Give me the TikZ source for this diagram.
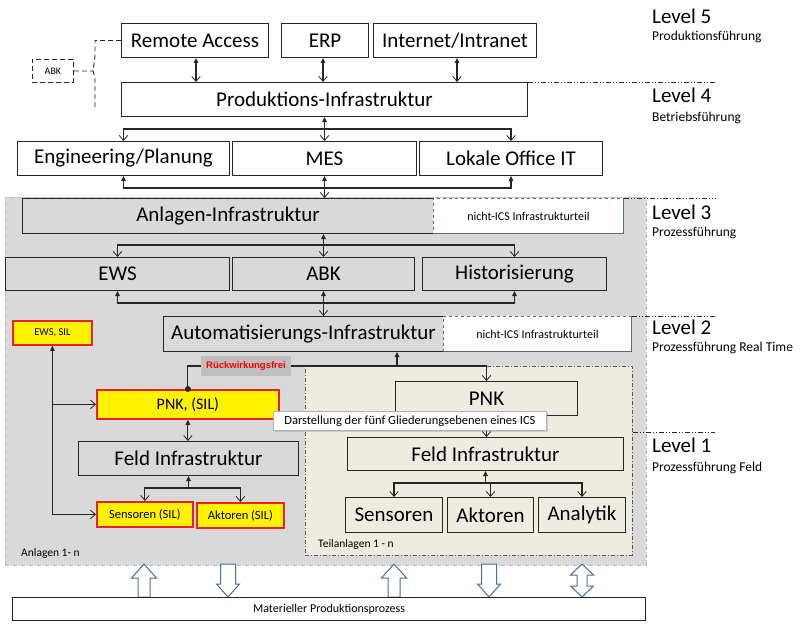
\documentclass[tikz,border=0pt]{standalone}
\usepackage{fontspec}
\setmainfont{Carlito}
\newfontfamily\arialf{Liberation Sans}
\usetikzlibrary{arrows.meta,shadows}
\definecolor{bgg}{HTML}{D9D9D9}
\definecolor{beige}{HTML}{EEECE1}
\definecolor{edge}{HTML}{262626}
\definecolor{redb}{HTML}{E8202A}
\definecolor{blkc}{HTML}{4A6E9E}
\definecolor{dashb}{HTML}{55698A}
\definecolor{rukg}{HTML}{BFBFBF}
\newcommand\blkup[1]{\draw[blkarrow] (#1-6,597) -- (#1-6,578) -- (#1-12.5,578) -- (#1,564) -- (#1+12.5,578) -- (#1+6,578) -- (#1+6,597) -- cycle;}
\newcommand\blkdown[1]{\draw[blkarrow] (#1-7.5,564) -- (#1-7.5,584) -- (#1-11.5,584) -- (#1,597) -- (#1+11.5,584) -- (#1+7.5,584) -- (#1+7.5,564) -- cycle;}
\newcommand\blkboth[1]{\draw[blkarrow] (#1,564) -- (#1+11.5,575) -- (#1+5,575) -- (#1+5,586) -- (#1+11.5,586) -- (#1,597) -- (#1-11.5,586) -- (#1-5,586) -- (#1-5,575) -- (#1-11.5,575) -- cycle;}
\tikzset{
  ftip/.tip={Triangle[length=5pt,width=4.5pt]},
  otip/.tip={Straight Barb[length=5pt,width=8.5pt,line width=0.8pt]}
}
\begin{document}
\begin{tikzpicture}[x=1pt,y=-1pt,
  box/.style={draw=edge, line width=1pt, anchor=north west, inner sep=0pt, font=\fontsize{21}{21}\selectfont},
  gbox/.style={box, fill=bgg},
  bbox/.style={box, fill=beige},
  wbox/.style={box, fill=white},
  ybox/.style={draw=redb, line width=1.8pt, fill=yellow, anchor=north west, inner sep=0pt},
  nics/.style={draw=dashb, dashed, line width=0.8pt, fill=white, anchor=north west, inner sep=0pt, font=\fontsize{12}{12}\selectfont},
  conn/.style={draw=edge, line width=1.1pt},
  lvl/.style={anchor=west, inner sep=0pt, font=\fontsize{21}{21}\selectfont},
  sublvl/.style={anchor=west, inner sep=0pt, font=\fontsize{13.5}{13.5}\selectfont},
  lvline/.style={draw=edge, line width=0.8pt, dash pattern=on 5pt off 2pt on 1pt off 2pt on 1pt off 2pt},
  blkarrow/.style={draw=blkc, line width=1pt, fill=white, line join=miter},
  smalllbl/.style={anchor=west, inner sep=0pt, font=\fontsize{11.5}{11.5}\selectfont},
  abkdash/.style={draw=edge, line width=0.9pt, dash pattern=on 5pt off 3pt}
]
\useasboundingbox (0,0) rectangle (802,623);

% ---------- Level 5 / 4 ----------
\node[wbox, minimum width=147, minimum height=34] (ra) at (121,23) {Remote Access};
\node[wbox, minimum width=87, minimum height=34] (erp) at (281,23) {ERP};
\node[wbox, minimum width=163, minimum height=34] (ii) at (373,23) {Internet/Intranet};
\node[abkdash, anchor=north west, inner sep=0pt, minimum width=41, minimum height=23, font=\fontsize{10}{10}\selectfont] (abk0) at (32,59) {ABK};
\node[wbox, minimum width=406, minimum height=34] (pi) at (121,82) {Produktions-Infrastruktur};
\node[wbox, minimum width=212, minimum height=34] (eng) at (17,141) {Engineering/Planung};
\node[wbox, minimum width=184, minimum height=34] (mes) at (232,141) {MES};
\node[wbox, minimum width=183, minimum height=34] (lok) at (419,141) {Lokale Office IT};

% dashed ABK link
\coordinate (kink) at (93,71);
\draw[abkdash] (ra.west) -| (95,56) -- (kink) -- (95,78) -- (95,110);
\draw[abkdash] (abk0.east) -- (kink);

% connectors level 5 -> 4
\draw[conn, ftip-otip] (196,0 |- ra.south) -- (196,0 |- pi.north);
\draw[conn, ftip-otip] (323,0 |- erp.south) -- (323,0 |- pi.north);
\draw[conn, ftip-otip] (457,0 |- ii.south) -- (457,0 |- pi.north);
\draw[conn, ftip-otip] (pi.south) -- (mes.north);
\draw[conn, otip-otip] (eng.north) -- ++(0,-12) -| (lok.north);

% ---------- Anlagen region ----------
\node[draw=gray!55, fill=bgg, line width=0.8pt, dash pattern=on 4pt off 1.5pt on 1pt off 1.5pt, anchor=north west, inner sep=0pt, minimum width=641, minimum height=368] (anl) at (5,197) {};
\node[gbox, minimum width=411, minimum height=35] (ai) at (22,198) {Anlagen-Infrastruktur};
\node[nics, minimum width=190, minimum height=35] (nics1) at (433,198) {nicht-ICS Infrastrukturteil};
\draw[draw=dashb, line width=0.9pt] (nics1.north east) -- (nics1.south east) -- (nics1.south west);

\draw[conn, ftip-ftip] (eng.south) -- ++(0,12) -| (lok.south);
\draw[conn, ftip-otip] (mes.south) -- (mes.south |- ai.north);

\node[gbox, minimum width=224, minimum height=33] (ews) at (5,257) {EWS};
\node[gbox, minimum width=182, minimum height=33] (abkb) at (232,257) {ABK};
\node[gbox, minimum width=184, minimum height=33] (hist) at (422,257) {Historisierung};

\draw[conn, ftip-otip] (abkb.north |- ai.south) -- (abkb.north);
\draw[conn, otip-otip] (ews.north) -- ++(0,-12) -| (hist.north);

\node[gbox, minimum width=280, minimum height=35] (am) at (163,316) {Automatisierungs-Infrastruktur};
\node[nics, minimum width=188, minimum height=35] (nics2) at (443,316) {nicht-ICS Infrastrukturteil};
\draw[draw=dashb, line width=0.9pt] (nics2.north east) -- (nics2.south east) -- (nics2.south west);

\draw[conn, ftip-ftip] (ews.south) -- ++(0,12) -| (hist.south);
\draw[conn, ftip-otip] (abkb.south) -- (abkb.south |- am.north);

% Teilanlagen region
\node[draw=gray!70!black, fill=beige, line width=0.8pt, dash pattern=on 4pt off 2pt on 1pt off 2pt, anchor=north west, inner sep=0pt, minimum width=327, minimum height=189] (teil) at (305,366) {};

\node[ybox, minimum width=79, minimum height=24, font=\fontsize{10.5}{10.5}\selectfont] (ewss) at (12,320) {EWS, SIL};
\node[ybox, minimum width=182, minimum height=29, font=\fontsize{16}{16}\selectfont] (pnks) at (96,389) {PNK, (SIL)};
\node[bbox, minimum width=182, minimum height=34] (pnk) at (395,381) {PNK};
\node[gbox, minimum width=220, minimum height=34] (fl) at (78,441) {Feld Infrastruktur};
\node[bbox, minimum width=276, minimum height=33] (fr) at (347,437) {Feld Infrastruktur};
\node[ybox, minimum width=96, minimum height=25, font=\fontsize{12.5}{12.5}\selectfont] (sens) at (96,501) {Sensoren (SIL)};
\node[ybox, minimum width=87, minimum height=25, font=\fontsize{12.5}{12.5}\selectfont] (akts) at (196,502) {Aktoren (SIL)};
\node[bbox, minimum width=97, minimum height=35] (sen) at (345,497) {Sensoren};
\node[bbox, minimum width=86, minimum height=35] (akt) at (447,497) {Aktoren};
\node[bbox, minimum width=87, minimum height=35] (ana) at (538,497) {Analytik};

\node[smalllbl] (anlbl) at (21,553) {Anlagen 1- n};
\node[smalllbl] (teillbl) at (318,544) {Teilanlagen 1 - n};

% bus below Automatisierungs-Infrastruktur
\coordinate (bus) at (397,366);
\draw[conn, -otip] (pnks.north) |- (bus) -| (pnk.north);
\draw[conn, -ftip] (bus) -- (bus |- am.south);
\fill[edge] (pnks.north) circle[radius=3pt];
\node[fill=rukg, inner sep=0pt, minimum width=90, minimum height=20, text=red, font=\arialf\bfseries\fontsize{9.5}{9.5}\selectfont] (ruk) at (246,366) {Rückwirkungsfrei};

% left column
\draw[conn, ftip-otip] (ewss.south) |- (sens.west);
\draw[conn, -otip] (ewss.south |- pnks.west) -- (pnks.west);
\draw[conn, ftip-otip] (pnks.south) -- (pnks.south |- fl.north);
\draw[conn, ftip-] (fl.south) -- ++(0,13);
\draw[conn, otip-otip] (sens.north) -- ++(0,-13) -| (akts.north);

% right column
\draw[conn, ftip-otip] (pnk.south) -- (pnk.south |- fr.north);
\draw[conn, ftip-] (fr.south) -- ++(0,13);
\draw[conn, otip-otip] (sen.north) -- ++(0,-14) -| (ana.north);
\draw[conn, -otip] (akt.north) ++(0,-14) -- (akt.north);

% tooltip
\node[draw=gray!60, fill=white, line width=0.8pt, anchor=north west, inner sep=0pt, minimum width=273, minimum height=19, font=\fontsize{12.5}{12.5}\selectfont, drop shadow={shadow xshift=1.5pt, shadow yshift=-1.5pt, opacity=0.3}] (tip) at (273,411) {Darstellung der fünf Gliederungsebenen eines ICS};

% level lines
\draw[lvline] (pi.north east) -- (715,0 |- pi.north east);
\draw[lvline] (nics1.north east) -- (715,0 |- nics1.north east);
\draw[lvline] (nics2.north east) -- (715,0 |- nics2.north east);
\draw[lvline] (teil.east |- 0,432) -- (715,432);

% level labels
\node[lvl] (l5) at (652,16) {Level 5};
\node[sublvl] (s5) at (652,37) {Produktionsführung};
\node[lvl] (l4) at (652,95) {Level 4};
\node[sublvl] (s4) at (652,118) {Betriebsführung};
\node[lvl] (l3) at (652,212) {Level 3};
\node[sublvl] (s3) at (652,233) {Prozessführung};
\node[lvl] (l2) at (652,327) {Level 2};
\node[sublvl] (s2) at (652,348) {Prozessführung Real Time};
\node[lvl] (l1) at (652,445) {Level 1};
\node[sublvl] (s1) at (652,468) {Prozessführung Feld};

% block arrows and process
\blkup{144}
\blkdown{228}
\blkup{394}
\blkdown{489}
\blkboth{582}
\node[draw=edge, line width=1pt, fill=white, anchor=north west, inner sep=0pt, minimum width=633, minimum height=23, font=\fontsize{12}{12}\selectfont] (mat) at (12,597) {Materieller Produktionsprozess};
\end{tikzpicture}
\end{document}
